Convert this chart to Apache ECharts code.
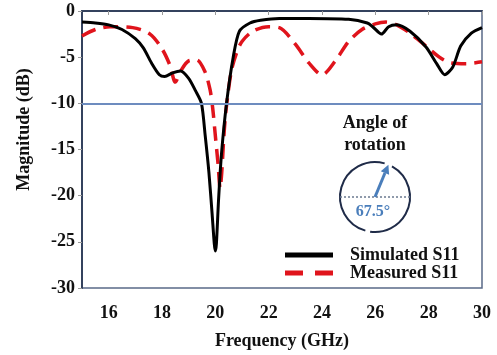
<!DOCTYPE html>
<html>
<head>
<meta charset="utf-8">
<script src="https://cdn.jsdelivr.net/npm/echarts@6/dist/echarts.min.js"></script>
<style>
  html, body { margin: 0; padding: 0; background: #fff; }
  #chart { width: 497px; height: 355px; }
</style>
</head>
<body>
<div id="chart"></div>
<script>
// simulated S11 (GHz, dB)
var simFreq = [15, 15.5, 16, 16.5, 17, 17.3, 17.6, 17.9, 18.1, 18.4, 18.7, 19.0, 19.25, 19.48, 19.62, 19.76, 19.88, 19.96, 20.0, 20.04, 20.12, 20.23, 20.42, 20.67, 20.9, 21.3, 21.7, 22.4, 23.5, 25.0, 25.7, 25.9, 26.23, 26.5, 26.8, 27.3, 27.9, 28.3, 28.6, 28.9, 29.2, 29.6, 30];
var simMag  = [-1.2, -1.3, -1.5, -2.0, -3.0, -4.0, -5.6, -6.9, -7.1, -6.7, -6.5, -7.3, -8.6, -10, -13.5, -17.5, -22, -25.2, -26, -25.2, -20.5, -15.5, -10, -5, -2.2, -1.3, -1.0, -0.8, -0.8, -0.9, -1.3, -1.7, -2.5, -1.7, -1.5, -2.2, -3.9, -5.7, -6.9, -6.1, -3.8, -2.4, -1.8];

// measured S11
var measFreq = [15, 15.5, 16.05, 16.9, 17.55, 18.0, 18.3, 18.5, 18.7, 19.0, 19.3, 19.6, 19.8, 19.9, 20.0, 20.1, 20.18, 20.24, 20.3, 20.36, 20.43, 20.6, 20.8, 21.0, 21.4, 22.0, 22.4, 23.0, 23.5, 24.0, 24.5, 25.0, 25.5, 26.0, 26.4, 26.8, 27.3, 27.9, 28.4, 28.8, 29.4, 30];
var measMag  = [-2.7, -2.0, -1.7, -1.8, -2.5, -4.1, -5.9, -7.7, -6.5, -5.4, -5.3, -6.5, -8.5, -10.5, -13.5, -16.5, -19.2, -17.5, -14.5, -12, -10, -6.5, -4.5, -3.3, -2.2, -1.7, -1.8, -3.6, -5.6, -6.9, -5.4, -3.3, -2.0, -1.4, -1.2, -1.5, -2.4, -3.8, -5.0, -5.6, -5.7, -5.5];

var xTicks = [16, 18, 20, 22, 24, 26, 28, 30];
var refLevel = -10;
var rotAngle = 67.5;

function pairs(xs, ys) {
    return xs.map(function (x, i) { return [x, ys[i]]; });
}

var serif = '"Liberation Serif", "Times New Roman", serif';
var myChart = echarts.init(document.getElementById('chart'));

// inset: circle with arrow showing the rotation angle
var cx = 375, cy = 197, r = 35;
var a = rotAngle * Math.PI / 180;
var tipX = cx + r * Math.cos(a), tipY = cy - r * Math.sin(a);
var ux = Math.cos(a), uy = -Math.sin(a);
var bx = tipX - 9 * ux, by = tipY - 9 * uy;
var deg = Math.PI / 180;

var option = {
    animation: false,
    grid: {
        left: 82, right: 15, top: 11, bottom: 63,
        show: true, borderColor: '#5a6a88', borderWidth: 1.5
    },
    legend: {
        left: 280, top: 241, orient: 'vertical',
        itemWidth: 48, itemHeight: 5, itemGap: 0,
        textStyle: { fontFamily: serif, fontWeight: 'bold', fontSize: 18, lineHeight: 18, color: '#111', padding: [0, 0, 0, 12] },
        data: [
            { name: 'Simulated S11', icon: 'path://M0,0H48V5H0Z', itemStyle: { color: '#000' } },
            { name: 'Measured S11', icon: 'path://M0,0H18V5H0ZM30,0H48V5H30Z', itemStyle: { color: '#e0141c' } }
        ]
    },
    xAxis: {
        type: 'value', min: 15, max: 30,
        name: 'Frequency (GHz)', nameLocation: 'middle', nameGap: 44,
        nameTextStyle: { fontFamily: serif, fontWeight: 'bold', fontSize: 18, color: '#111' },
        axisLine: { lineStyle: { color: '#34425e', width: 2 } },
        axisTick: { show: true, length: 4, lineStyle: { color: '#999' }, customValues: xTicks },
        axisLabel: { fontFamily: serif, fontWeight: 'bold', fontSize: 18, color: '#111', margin: 16, customValues: xTicks },
        splitLine: { show: false }
    },
    yAxis: {
        type: 'value', min: -30, max: 0, interval: 5,
        name: 'Magnitude (dB)', nameLocation: 'middle', nameGap: 49,
        nameTextStyle: { fontFamily: serif, fontWeight: 'bold', fontSize: 18, color: '#111', padding: [0, 0, 0, 40] },
        axisLine: { show: true, lineStyle: { color: '#34425e', width: 2 } },
        axisTick: { show: true, length: 4, lineStyle: { color: '#999' } },
        axisLabel: { fontFamily: serif, fontWeight: 'bold', fontSize: 18, color: '#111', margin: 7 },
        splitLine: { show: false }
    },
    series: [{
        name: 'Simulated S11',
        type: 'line',
        data: pairs(simFreq, simMag),
        smooth: 0.25,
        symbol: 'none',
        z: 3,
        lineStyle: { color: '#000', width: 3 },
        itemStyle: { color: '#000' },
        markLine: {
            silent: true, symbol: 'none', label: { show: false },
            lineStyle: { color: '#6d8cbf', width: 2, type: 'solid' },
            data: [{ yAxis: refLevel }]
        }
    }, {
        name: 'Measured S11',
        type: 'line',
        data: pairs(measFreq, measMag),
        smooth: 0.3,
        symbol: 'none',
        z: 2,
        lineStyle: { color: '#e0141c', width: 3.5, type: [15, 8] },
        itemStyle: { color: '#e0141c' }
    }],
    graphic: [
        { type: 'text', style: { text: 'Angle of', x: cx, y: 123, align: 'center', verticalAlign: 'middle', font: 'bold 18px ' + serif, fill: '#111' } },
        { type: 'text', style: { text: 'rotation', x: cx, y: 145, align: 'center', verticalAlign: 'middle', font: 'bold 18px ' + serif, fill: '#111' } },
        { type: 'arc', shape: { cx: cx, cy: cy, r: r, startAngle: -61 * deg, endAngle: 98 * deg, clockwise: true }, style: { stroke: '#1f2b48', lineWidth: 2, fill: null } },
        { type: 'arc', shape: { cx: cx, cy: cy, r: r, startAngle: 106 * deg, endAngle: 286 * deg, clockwise: true }, style: { stroke: '#1f2b48', lineWidth: 2, fill: null } },
        { type: 'line', shape: { x1: cx - r, y1: cy, x2: cx + r, y2: cy }, style: { stroke: '#6b7a90', lineWidth: 1.5, lineDash: [2, 2] } },
        { type: 'line', shape: { x1: cx, y1: cy, x2: bx, y2: by }, style: { stroke: '#4a7ebb', lineWidth: 3 } },
        { type: 'polygon', shape: { points: [[tipX, tipY], [bx + 4.5 * (-uy), by + 4.5 * ux], [bx - 4.5 * (-uy), by - 4.5 * ux]] }, style: { fill: '#4a7ebb' } },
        { type: 'text', style: { text: '67.5°', x: cx - 2, y: 212, align: 'center', verticalAlign: 'middle', font: 'bold 16px ' + serif, fill: '#4a7ebb' } }
    ]
};

myChart.setOption(option);
</script>
</body>
</html>
